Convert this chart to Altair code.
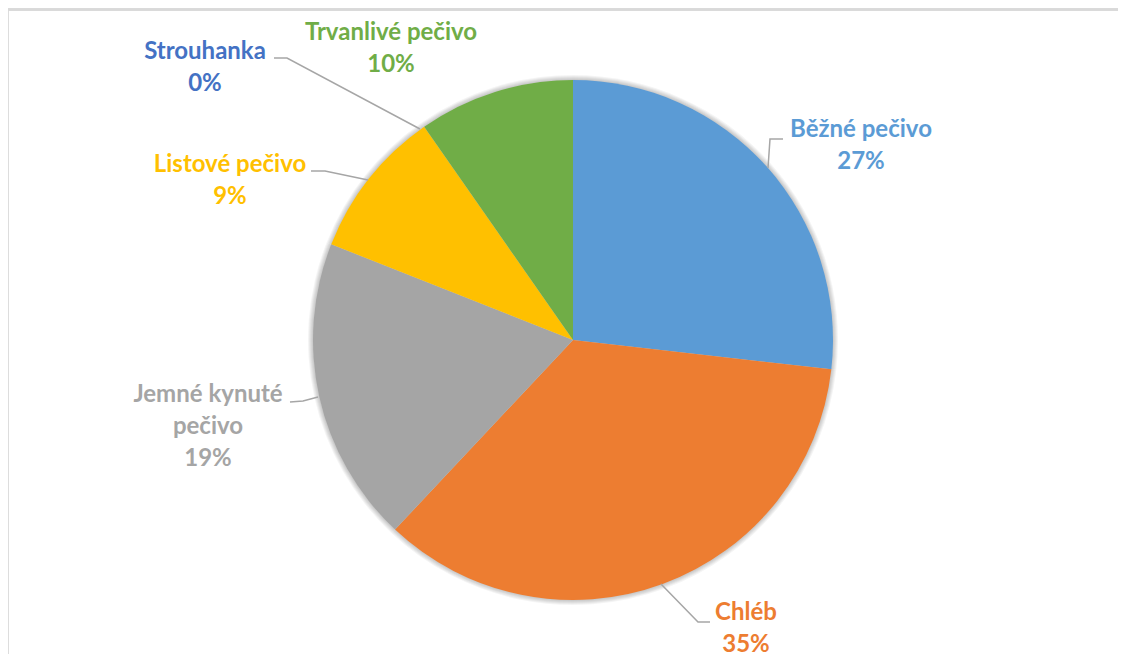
import altair as alt
import pandas as pd

# ---- data ----
categories = ["Běžné pečivo", "Chléb", "Jemné kynuté pečivo",
              "Listové pečivo", "Strouhanka", "Trvanlivé pečivo"]
shares = [26.8, 35.2, 19.0, 9.3, 0.0, 9.7]
colors = ["#5B9BD5", "#ED7D31", "#A5A5A5", "#FFC000", "#4472C4", "#70AD47"]
label_names = ["Běžné pečivo", "Chléb", "Jemné kynuté\npečivo",
               "Listové pečivo", "Strouhanka", "Trvanlivé pečivo"]

# ---- layout (annotation placement) ----
W, H = 1110, 646
CX, CY, R = 565, 332, 260
label_x = [853, 738, 200, 222, 197, 383]
label_y = [129, 612, 394, 164, 51, 32]
leader_pts = {
    "Běžné pečivo": [(775, 131), (762, 131), (760, 160)],
    "Chléb": [(702, 614), (690, 614), (653, 576)],
    "Jemné kynuté pečivo": [(282, 394), (295, 393), (310, 389)],
    "Listové pečivo": [(303, 163), (317, 163), (360, 172)],
    "Strouhanka": [(266, 50), (279, 50), (412, 121)],
}

total = sum(shares)
pie_df = pd.DataFrame({
    "cat": categories,
    "value": shares,
    "idx": list(range(len(categories))),
})
lab_df = pd.DataFrame({
    "cat": categories,
    "text": [f"{n}\n{round(v / total * 100)}%" for n, v in zip(label_names, shares)],
    "lx": label_x,
    "ly": label_y,
})
rows = []
for cat, pts in leader_pts.items():
    for i, (px, py) in enumerate(pts):
        rows.append({"cat": cat, "seq": i, "px": px, "py": py})
lead_df = pd.DataFrame(rows)

color_scale = alt.Scale(domain=categories, range=colors)

base = alt.Chart(pie_df)

shadows = [
    base.mark_arc(outerRadius=R + k, color="black", opacity=0.045).encode(
        theta=alt.Theta("value:Q", stack=True),
        order=alt.Order("idx:Q"),
        x=alt.value(CX), y=alt.value(CY),
    )
    for k in (5, 4, 3, 2, 1)
]

pie = base.mark_arc(outerRadius=R).encode(
    theta=alt.Theta("value:Q", stack=True),
    color=alt.Color("cat:N", scale=color_scale, legend=None),
    order=alt.Order("idx:Q"),
    x=alt.value(CX), y=alt.value(CY),
)

leaders = alt.Chart(lead_df).mark_line(color="#A6A6A6", strokeWidth=1.5).encode(
    x=alt.X("px:Q", scale=None, axis=None),
    y=alt.Y("py:Q", scale=None, axis=None),
    detail="cat:N",
    order="seq:Q",
)

labels = alt.Chart(lab_df).mark_text(
    font="Lato", fontSize=24, fontWeight="bold", align="center",
    baseline="alphabetic", lineBreak="\n", lineHeight=32,
).encode(
    x=alt.X("lx:Q", scale=None, axis=None),
    y=alt.Y("ly:Q", scale=None, axis=None),
    text="text:N",
    color=alt.Color("cat:N", scale=color_scale, legend=None),
)

frame_top = alt.Chart(pie_df).mark_rule(color="#D9D9D9", strokeWidth=2).encode(
    x=alt.value(-1), x2=alt.value(W), y=alt.value(1.5)
)
frame_left = alt.Chart(pie_df).mark_rule(color="#D9D9D9", strokeWidth=2).encode(
    x=alt.value(-1), y=alt.value(0.5), y2=alt.value(H)
)

chart = alt.layer(
    frame_top, frame_left, *shadows, pie, leaders, labels
).properties(
    width=W, height=H,
    autosize=alt.AutoSizeParams(type="none"),
    padding=0,
).configure_view(strokeWidth=0).configure(background="white")

chart.save("out.html", embed_options={"renderer": "svg", "actions": False})
